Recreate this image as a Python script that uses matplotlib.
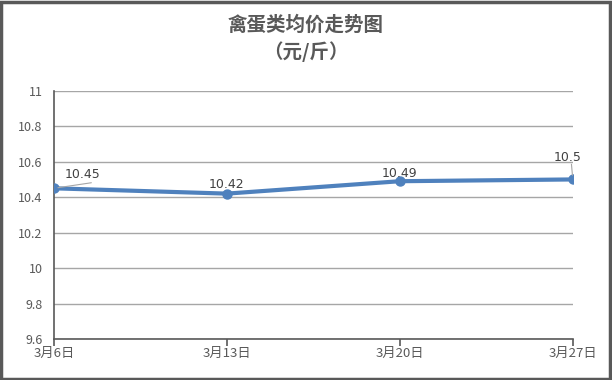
import matplotlib.pyplot as plt
import matplotlib.patches as mpatches

plt.rcParams['font.family'] = ['Noto Sans CJK SC', 'DejaVu Sans']

dates = ["3月6日", "3月13日", "3月20日", "3月27日"]
prices = [10.45, 10.42, 10.49, 10.5]
yticks = [9.6, 9.8, 10, 10.2, 10.4, 10.6, 10.8, 11]
ylabels = ["9.6", "9.8", "10", "10.2", "10.4", "10.6", "10.8", "11"]

fig = plt.figure(figsize=(6.12, 3.80), dpi=100)
ax = fig.add_axes([0.088, 0.108, 0.848, 0.653])

x = list(range(len(dates)))
ax.plot(x, prices, color='#4F81BD', lw=3, marker='o', ms=6.5, zorder=3)

ax.set_xlim(0, 3)
ax.set_ylim(9.6, 11)
ax.set_yticks(yticks)
ax.set_yticklabels(ylabels)
ax.set_xticks(x)
ax.set_xticklabels(dates)
ax.grid(axis='y', color='#A6A6A6', lw=1)
ax.set_axisbelow(True)
for s in ['top', 'right']:
    ax.spines[s].set_visible(False)
for s in ['left', 'bottom']:
    ax.spines[s].set_color('#595959')
    ax.spines[s].set_linewidth(1.2)
ax.tick_params(axis='y', length=0, labelsize=9, labelcolor='#595959', pad=8)
ax.tick_params(axis='x', length=5, color='#595959', width=1.2, labelsize=9.5, labelcolor='#595959', pad=1)

# data labels
lab_off = [(8, 5), (0, 2), (0, 1), (-4, 11)]
lab_ha = ['left', 'center', 'center', 'center']
for i, (v, off, ha) in enumerate(zip(prices, lab_off, lab_ha)):
    ax.annotate(f"{v:g}", (i, v), xytext=off, textcoords='offset points',
                ha=ha, va='bottom', fontsize=9, color='#404040',
                family=['DejaVu Sans'], annotation_clip=False)
ax.annotate("", (0, prices[0]), xytext=(27, 4), textcoords='offset points',
            arrowprops=dict(arrowstyle='-', color='#A6A6A6', lw=0.8, shrinkA=0, shrinkB=3),
            annotation_clip=False)
ax.annotate("", (3, prices[3]), xytext=(-1, 11), textcoords='offset points',
            arrowprops=dict(arrowstyle='-', color='#A6A6A6', lw=0.8, shrinkA=0, shrinkB=3),
            annotation_clip=False)

fig.text(0.5, 0.935, "禽蛋类均价走势图", ha='center', va='center', fontsize=14,
         color='#595959', fontweight='bold')
fig.text(0.5, 0.865, "（元/斤）", ha='center', va='center', fontsize=14,
         color='#595959', fontweight='bold')

fig.patches.append(mpatches.Rectangle((0.002, 0.003), 0.994, 0.993, transform=fig.transFigure,
                                      fill=False, edgecolor='#595959', lw=2.5))

fig.savefig('out.png', dpi=100)
